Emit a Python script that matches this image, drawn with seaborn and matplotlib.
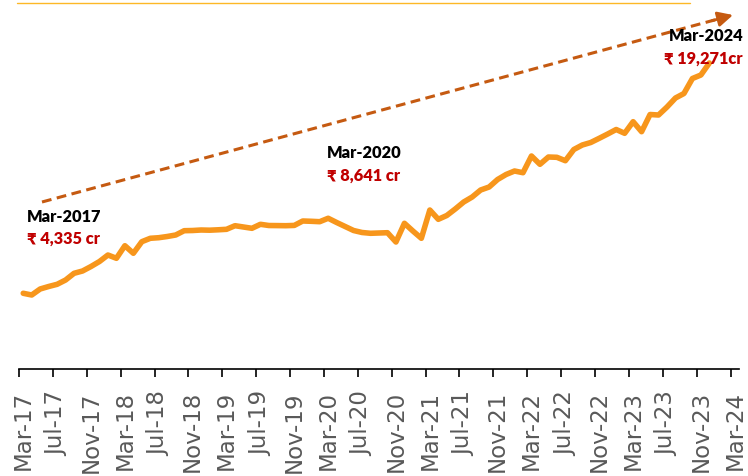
import numpy as np
import pandas as pd
import matplotlib
matplotlib.use("Agg")
import matplotlib.pyplot as plt
from matplotlib.lines import Line2D
import seaborn as sns

# Monthly AUM (₹ crore), Mar-2017 onwards
aum_values = [
    4335, 4236, 4581, 4724, 4850, 5097, 5482, 5614, 5872, 6159,
    6532, 6343, 7066, 6630, 7296, 7491, 7525, 7594, 7680, 7927,
    7938, 7967, 7956, 7979, 8007, 8214, 8139, 8065, 8294, 8225,
    8220, 8214, 8230, 8484, 8467, 8444, 8641, 8398, 8168, 7938,
    7824, 7778, 7795, 7812, 7278, 8352, 7910, 7491, 9115, 8581,
    8799, 9173, 9574, 9861, 10263, 10435, 10866, 11153, 11354, 11256,
    12215, 11738, 12157, 12140, 11945, 12588, 12846, 12990, 13231, 13478,
    13736, 13518, 14184, 13610, 14597, 14568, 15027, 15544, 15802, 16663,
    16864, 17553,
]

n_months = 85  # Mar-17 .. Mar-24
tick_labels = [
    "Mar-17", "Jul-17", "Nov-17", "Mar-18", "Jul-18", "Nov-18", "Mar-19",
    "Jul-19", "Nov-19", "Mar-20", "Jul-20", "Nov-20", "Mar-21", "Jul-21",
    "Nov-21", "Mar-22", "Jul-22", "Nov-22", "Mar-23", "Jul-23", "Nov-23",
    "Mar-24",
]

callout_dates = ["Mar-2017", "Mar-2020", "Mar-2024"]
callout_values = ["₹ 4,335 cr", "₹ 8,641 cr", "₹ 19,271cr"]

df = pd.DataFrame({"month": np.arange(len(aum_values)), "aum": aum_values})

sns.set_style("white")
plt.rcParams["font.family"] = ["DejaVu Sans"]

W, H = 748, 476
fig = plt.figure(figsize=(W / 100, H / 100), dpi=100)
ax = fig.add_axes([19 / W, 1 - 368.8 / H, 720 / W, 366.3 / H])

sns.lineplot(data=df, x="month", y="aum", ax=ax, color="#F7961C",
             linewidth=4.0, solid_capstyle="round", solid_joinstyle="round")

ax.set_xlim(-0.5, n_months - 0.5)
ax.set_ylim(0, 21026)
ax.set_xlabel("")
ax.set_ylabel("")
ax.set_yticks([])
for side in ("left", "right", "top"):
    ax.spines[side].set_visible(False)
ax.spines["bottom"].set_color("black")
ax.spines["bottom"].set_linewidth(1.2)

label_pos = np.arange(0, n_months, 4)
ax.set_xticks(label_pos)
ax.set_xticklabels(tick_labels, rotation=90, fontsize=16.5, color="#595959")
ax.tick_params(axis="x", which="major", length=0, pad=16)
ax.set_xticks(label_pos - 0.5, minor=True)
ax.tick_params(axis="x", which="minor", bottom=True, length=6, width=1.2,
               color="black", direction="out")

# thin rule along the top
fig.add_artist(Line2D([17 / W, 690 / W], [1 - 2.5 / H, 1 - 2.5 / H],
                      transform=fig.transFigure, color="#FDB827", lw=1.0))

# dashed growth arrow
x0, y0 = 42, H - 202
x1, y1 = 733, H - 15
hx, hy = x0 + (x1 - x0) * 0.975, y0 + (y1 - y0) * 0.975
fig.add_artist(Line2D([x0 / W, hx / W], [y0 / H, hy / H],
                      transform=fig.transFigure, color="#C55A11", lw=2.2,
                      linestyle=(0, (3.2, 1.8))))
ax.annotate("", xy=(x1, y1), xytext=(hx - 4, hy - 1.1),
            xycoords="figure pixels", textcoords="figure pixels",
            arrowprops=dict(arrowstyle="-|>,head_length=0.9,head_width=0.45",
                            color="#C55A11", lw=2.0, shrinkA=0, shrinkB=0))

# call-outs
fam = ["Lato", "DejaVu Sans"]
text_spots = [
    (27, 222.3, 243.3, "left"),
    (327, 158.3, 180.7, "left"),
    (743, 40.7, 63.3, "right"),
]
for (tx, by1, by2, ha), d, v in zip(text_spots, callout_dates, callout_values):
    fig.text(tx / W, 1 - by1 / H, d, fontsize=11.8, fontweight="heavy",
             color="black", ha=ha, va="baseline", family=fam)
    fig.text(tx / W, 1 - by2 / H, v, fontsize=11.8, fontweight="heavy",
             color="#C00000", ha=ha, va="baseline", family=fam)

fig.savefig("out.png", dpi=100)
